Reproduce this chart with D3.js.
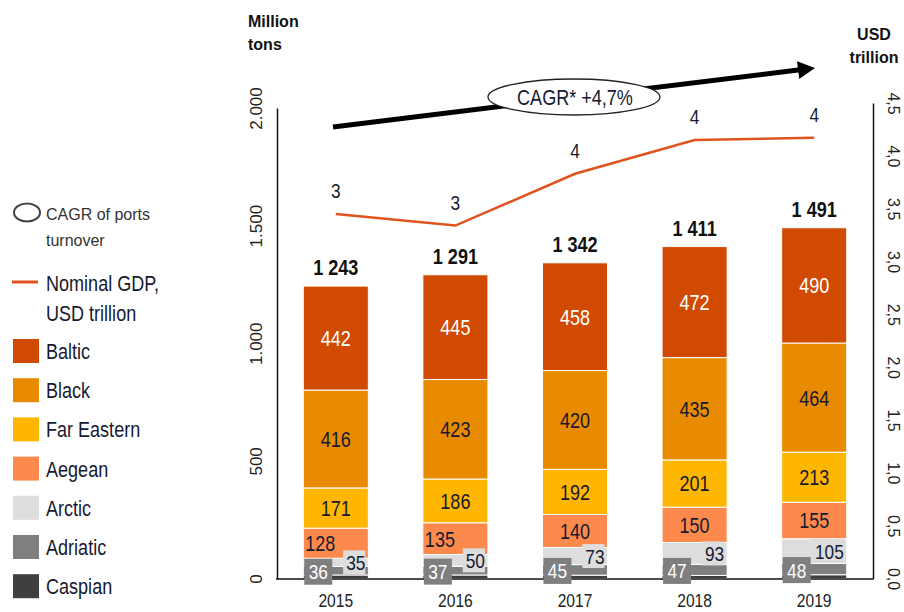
<!DOCTYPE html>
<html>
<head>
<meta charset="utf-8">
<script src="https://cdn.jsdelivr.net/npm/d3@7"></script>
<style>
  html, body { margin: 0; padding: 0; background: #fff; }
  svg { display: block; }
  text { font-family: "Liberation Sans Narrow", "Arial Narrow", "Liberation Sans", Arial, sans-serif; }
  .reg { font-family: "Liberation Sans", Arial, sans-serif; }
</style>
</head>
<body>
<svg id="chart" width="904" height="612"></svg>
<script>
// Port turnover by sea basin, million tons
const years = ["2015", "2016", "2017", "2018", "2019"];
const baltic = [442, 445, 458, 472, 490];
const black = [416, 423, 420, 435, 464];
const farEastern = [171, 186, 192, 201, 213];
const aegean = [128, 135, 140, 150, 155];
const arctic = [35, 50, 73, 93, 105];
const adriatic = [36, 37, 45, 47, 48];
const caspian = [15, 15, 14, 13, 16];
const totals = [1243, 1291, 1342, 1411, 1491];
// Nominal GDP, USD trillion
const gdp = [3.45, 3.34, 3.83, 4.15, 4.17];
const cagrLabel = "CAGR* +4,7%";
const leftTicks = [0, 500, 1000, 1500, 2000];
const rightTicks = [0, 0.5, 1, 1.5, 2, 2.5, 3, 3.5, 4, 4.5];

const seriesKeys = ["Caspian", "Adriatic", "Arctic", "Aegean", "Far Eastern", "Black", "Baltic"];
const seriesValues = [caspian, adriatic, arctic, aegean, farEastern, black, baltic];
const legendOrder = ["Baltic", "Black", "Far Eastern", "Aegean", "Arctic", "Adriatic", "Caspian"];
const colors = {
  "Baltic": "#d04a02",
  "Black": "#e88b00",
  "Far Eastern": "#ffb600",
  "Aegean": "#fd8a4c",
  "Arctic": "#dddddd",
  "Adriatic": "#7f7f7f",
  "Caspian": "#3f3f3f"
};
const ink = "#161a30";
const gdpColor = "#e0531f";

const rows = years.map((y, i) => {
  const r = { year: y };
  seriesKeys.forEach((k, j) => r[k] = seriesValues[j][i]);
  return r;
});
const stacked = d3.stack().keys(seriesKeys)(rows);

const svg = d3.select("#chart");

const x = d3.scaleBand().domain(years).range([276, 874]).paddingInner(0.456).paddingOuter(0.228);
const y = d3.scaleLinear().domain([0, 2000]).range([578.5, 108]);
const yR = d3.scaleLinear().domain([0, 4.5]).range([578.5, 103]);

const spaceLocale = d3.formatLocale({ decimal: ",", thousands: "\u00a0", grouping: [3], currency: ["", ""] });
const dotLocale = d3.formatLocale({ decimal: ",", thousands: ".", grouping: [3], currency: ["", ""] });
const fmtTotal = spaceLocale.format(",");
const fmtLeft = dotLocale.format(",");
const fmtRight = dotLocale.format(".1f");
const fmtGdp = d3.format(".0f");

// Axes
const gl = svg.append("g").attr("transform", "translate(277,0)")
  .call(d3.axisLeft(y).tickValues(leftTicks).tickSize(0).tickSizeOuter(0).tickFormat(fmtLeft));
gl.select(".domain").attr("stroke", "#111").attr("stroke-width", 1.5);
gl.selectAll(".tick text")
  .attr("class", "reg").attr("x", 0).attr("dy", null)
  .attr("transform", "translate(-21,0) rotate(-90)")
  .attr("text-anchor", "middle").attr("dominant-baseline", "central")
  .attr("font-size", 17).attr("fill", "#222");

const gr = svg.append("g").attr("transform", "translate(873,0)")
  .call(d3.axisRight(yR).tickValues(rightTicks).tickSize(0).tickSizeOuter(0).tickFormat(fmtRight));
gr.select(".domain").attr("stroke", "#111").attr("stroke-width", 1.5);
gr.selectAll(".tick text")
  .attr("class", "reg").attr("x", 0).attr("dy", null)
  .attr("transform", "translate(20,0) rotate(90)")
  .attr("text-anchor", "middle").attr("dominant-baseline", "central")
  .attr("font-size", 16).attr("fill", "#222");

// Stacked bars
const layers = svg.append("g").selectAll("g").data(stacked).join("g")
  .attr("fill", d => colors[d.key]);
layers.selectAll("rect").data(d => d).join("rect")
  .attr("x", d => x(d.data.year))
  .attr("width", x.bandwidth())
  .attr("y", d => y(d[1]))
  .attr("height", d => y(d[0]) - y(d[1]))
  .attr("stroke", "#fff").attr("stroke-width", 1);

// Baseline
svg.append("line").attr("x1", 276).attr("x2", 873.7).attr("y1", y(0) + 0.5).attr("y2", y(0) + 0.5)
  .attr("stroke", "#111").attr("stroke-width", 1.5);

const byKey = {};
stacked.forEach(s => byKey[s.key] = s);
const mid = d => (y(d[0]) + y(d[1])) / 2;

// Labels inside the big segments
[["Baltic", "#fff"], ["Black", ink], ["Far Eastern", ink]].forEach(([k, c]) => {
  svg.append("g").selectAll("text").data(byKey[k]).join("text")
    .attr("class", "n")
    .attr("x", d => x(d.data.year) + x.bandwidth() / 2)
    .attr("y", d => mid(d))
    .attr("dy", "0.36em")
    .attr("text-anchor", "middle")
    .attr("font-size", 22).attr("fill", c)
    .text(d => d.data[k]);
});

// Aegean labels move to the left where the arctic segment is thin
svg.append("g").selectAll("text").data(byKey["Aegean"]).join("text")
  .attr("class", "n")
  .attr("x", d => d.data["Arctic"] < 60 ? x(d.data.year) + 2 : x(d.data.year) + x.bandwidth() / 2)
  .attr("y", d => mid(d))
  .attr("dy", "0.36em")
  .attr("text-anchor", d => d.data["Arctic"] < 60 ? "start" : "middle")
  .attr("font-size", 22).attr("fill", ink)
  .text(d => d.data["Aegean"]);

// Arctic labels: right-aligned with a light box
const arcG = svg.append("g").selectAll("g").data(byKey["Arctic"]).join("g")
  .attr("transform", d => `translate(${x(d.data.year) + x.bandwidth()},${mid(d)})`);
arcG.append("rect").attr("class", "abox")
  .attr("y", -12).attr("height", 24).attr("fill", colors["Arctic"]);
arcG.append("text").attr("class", "n")
  .attr("x", -3).attr("dy", "0.36em").attr("text-anchor", "end")
  .attr("font-size", 21).attr("fill", ink)
  .text(d => d.data["Arctic"]);

// Adriatic labels: grey box at the left of the bar
const adrG = svg.append("g").selectAll("g").data(byKey["Adriatic"]).join("g")
  .attr("transform", d => `translate(${x(d.data.year) + 1},${mid(d) + 1})`);
adrG.append("rect").attr("x", 0).attr("y", -13).attr("width", 28).attr("height", 26)
  .attr("fill", colors["Adriatic"]);
adrG.append("text").attr("class", "n")
  .attr("x", 14).attr("dy", "0.36em").attr("text-anchor", "middle")
  .attr("font-size", 21).attr("fill", "#fff")
  .text(d => d.data["Adriatic"]);

// Totals above bars
svg.append("g").selectAll("text").data(byKey["Baltic"]).join("text")
  .attr("class", "n")
  .attr("x", d => x(d.data.year) + x.bandwidth() / 2)
  .attr("y", (d, i) => y(totals[i]) - 11)
  .attr("text-anchor", "middle")
  .attr("font-size", 22).attr("font-weight", "bold").attr("fill", "#111")
  .text((d, i) => fmtTotal(totals[i]));

// Year labels
svg.append("g").selectAll("text").data(years).join("text")
  .attr("class", "n")
  .attr("x", d => x(d) + x.bandwidth() / 2)
  .attr("y", 607)
  .attr("text-anchor", "middle")
  .attr("font-size", 19).attr("fill", "#222")
  .text(d => d);

// GDP line
const cx = (d, i) => x(years[i]) + x.bandwidth() / 2;
svg.append("path").datum(gdp)
  .attr("fill", "none").attr("stroke", gdpColor).attr("stroke-width", 2.5)
  .attr("d", d3.line().x(cx).y(d => yR(d)));
svg.append("g").selectAll("text").data(gdp).join("text")
  .attr("class", "n")
  .attr("x", cx)
  .attr("y", d => yR(d) - 16)
  .attr("text-anchor", "middle")
  .attr("font-size", 21).attr("fill", ink)
  .text(d => fmtGdp(d));

// CAGR arrow
const arrowStart = [333, 127], arrowEnd = [815, 68];
const ang = Math.atan2(arrowEnd[1] - arrowStart[1], arrowEnd[0] - arrowStart[0]);
const headLen = 17, headHalf = 9;
const bx = arrowEnd[0] - headLen * Math.cos(ang), by = arrowEnd[1] - headLen * Math.sin(ang);
svg.append("line")
  .attr("x1", arrowStart[0]).attr("y1", arrowStart[1])
  .attr("x2", bx + 2 * Math.cos(ang)).attr("y2", by + 2 * Math.sin(ang))
  .attr("stroke", "#000").attr("stroke-width", 5);
svg.append("path")
  .attr("d", `M${arrowEnd[0]},${arrowEnd[1]} L${bx - headHalf * Math.sin(ang)},${by + headHalf * Math.cos(ang)} L${bx + headHalf * Math.sin(ang)},${by - headHalf * Math.cos(ang)} Z`)
  .attr("fill", "#000");
svg.append("ellipse").attr("cx", 574).attr("cy", 97).attr("rx", 86).attr("ry", 18)
  .attr("fill", "#fff").attr("stroke", "#222").attr("stroke-width", 1.3);
svg.append("text").attr("class", "n")
  .attr("x", 575).attr("y", 105).attr("text-anchor", "middle")
  .attr("font-size", 22).attr("fill", ink)
  .text(cagrLabel);

// Axis titles
svg.append("text").attr("x", 248).attr("y", 27).attr("font-size", 16).attr("font-weight", "bold")
  .attr("class", "reg").attr("fill", "#111").text("Million");
svg.append("text").attr("x", 248).attr("y", 50).attr("font-size", 16).attr("font-weight", "bold")
  .attr("class", "reg").attr("fill", "#111").text("tons");
svg.append("text").attr("x", 874).attr("y", 40).attr("font-size", 16).attr("font-weight", "bold")
  .attr("text-anchor", "middle").attr("class", "reg").attr("fill", "#111").text("USD");
svg.append("text").attr("x", 874).attr("y", 63).attr("font-size", 16).attr("font-weight", "bold")
  .attr("text-anchor", "middle").attr("class", "reg").attr("fill", "#111").text("trillion");

// Legend
const lg = svg.append("g");
lg.append("ellipse").attr("cx", 27).attr("cy", 212.5).attr("rx", 13).attr("ry", 9)
  .attr("fill", "#fff").attr("stroke", "#444").attr("stroke-width", 2);
lg.append("text").attr("class", "reg").attr("x", 46).attr("y", 220).attr("font-size", 16).attr("fill", "#333").text("CAGR of ports");
lg.append("text").attr("class", "reg").attr("x", 46).attr("y", 246).attr("font-size", 16).attr("fill", "#333").text("turnover");
lg.append("line").attr("x1", 12).attr("x2", 38).attr("y1", 282).attr("y2", 282)
  .attr("stroke", gdpColor).attr("stroke-width", 3);
lg.append("text").attr("class", "n").attr("x", 46).attr("y", 291).attr("font-size", 22).attr("fill", ink).text("Nominal GDP,");
lg.append("text").attr("class", "n").attr("x", 46).attr("y", 321).attr("font-size", 22).attr("fill", ink).text("USD trillion");
const items = lg.selectAll("g.item").data(legendOrder).join("g").attr("class", "item")
  .attr("transform", (d, i) => `translate(13,${339 + i * 39.2})`);
items.append("rect").attr("width", 26).attr("height", 24).attr("fill", d => colors[d]);
items.append("text").attr("class", "n").attr("x", 33).attr("y", 20)
  .attr("font-size", 22).attr("fill", ink).text(d => d);

// Condense text when no narrow face is installed
(function () {
  const ctx = document.createElement("canvas").getContext("2d");
  const probe = "abcdefghijklmnop0123456789";
  ctx.font = '40px "Liberation Sans Narrow", "Arial Narrow", monospace';
  const a = ctx.measureText(probe).width;
  ctx.font = '40px "Liberation Sans"';
  const b = ctx.measureText(probe).width;
  ctx.font = "40px monospace";
  const m = ctx.measureText(probe).width;
  if (a / b > 0.9 || Math.abs(a - m) < 0.5) {
    svg.selectAll("text.n").each(function () {
      const el = this;
      el.style.fontFamily = '"Liberation Sans", Arial, sans-serif';
      const w = el.getComputedTextLength();
      el.setAttribute("textLength", (w * 0.82).toFixed(1));
      el.setAttribute("lengthAdjust", "spacingAndGlyphs");
    });
  }
})();

// Size arctic label boxes to their text
arcG.each(function () {
  const g = d3.select(this);
  const t = g.select("text").node().getBBox();
  g.select("rect").attr("x", t.x - 3).attr("width", t.width + 3);
});
</script>
</body>
</html>
